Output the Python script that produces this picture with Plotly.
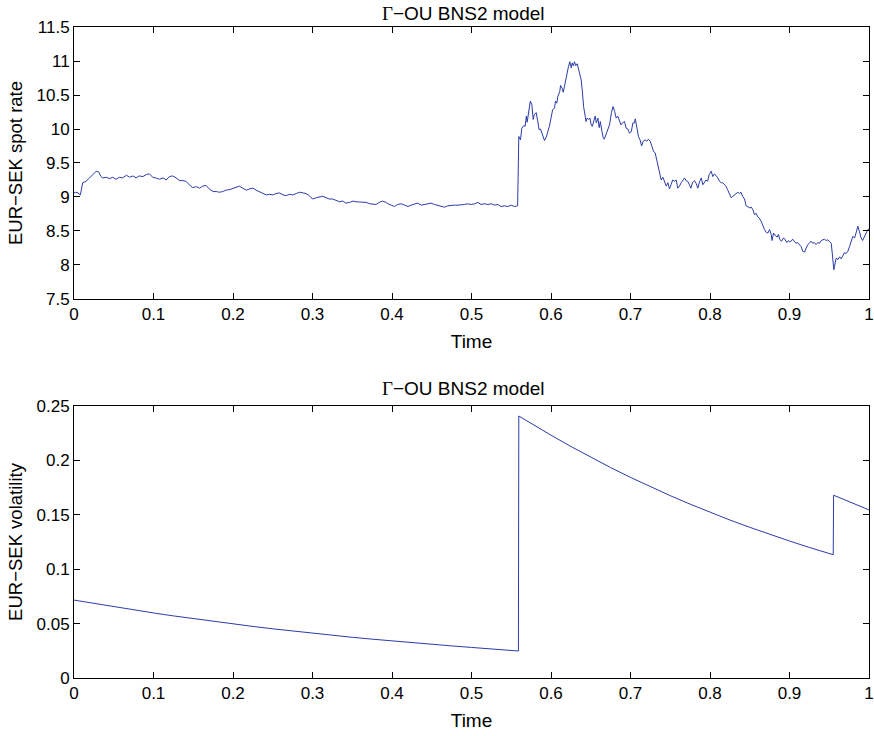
import plotly.graph_objects as go
from plotly.subplots import make_subplots

# ---- data ----
time_spot = [
    0.0, 0.002, 0.005, 0.008, 0.011, 0.015, 0.0195, 0.024, 0.028, 0.031, 0.034, 0.036,
    0.0405, 0.0447, 0.0488, 0.053, 0.057, 0.061, 0.066, 0.070, 0.074, 0.078, 0.082,
    0.0866, 0.091, 0.095, 0.099, 0.103, 0.1075, 0.112, 0.116, 0.120, 0.124, 0.1285,
    0.133, 0.137, 0.141, 0.145, 0.149, 0.154, 0.158, 0.162, 0.166, 0.170, 0.175, 0.179,
    0.183, 0.187, 0.191, 0.196, 0.200, 0.204, 0.208, 0.212, 0.217, 0.221, 0.225, 0.229,
    0.233, 0.2375, 0.242, 0.246, 0.250, 0.254, 0.2585, 0.263, 0.267, 0.271, 0.275,
    0.2795, 0.2836, 0.288, 0.292, 0.296, 0.300, 0.305, 0.309, 0.313, 0.317, 0.321,
    0.3255, 0.330, 0.334, 0.338, 0.342, 0.3465, 0.351, 0.355, 0.359, 0.363, 0.3675,
    0.372, 0.376, 0.380, 0.384, 0.388, 0.3927, 0.395, 0.399, 0.403, 0.407, 0.4116,
    0.416, 0.420, 0.424, 0.428, 0.432, 0.437, 0.441, 0.445, 0.449, 0.4535, 0.4576,
    0.462, 0.466, 0.470, 0.4745, 0.4786, 0.483, 0.487, 0.491, 0.495, 0.4996, 0.504,
    0.508, 0.512, 0.516, 0.5205, 0.525, 0.529, 0.533, 0.537, 0.5415, 0.5457, 0.550,
    0.554, 0.558, 0.5595, 0.5616, 0.5633, 0.5658, 0.5675, 0.569, 0.570, 0.5717, 0.5733,
    0.574, 0.5759, 0.5776, 0.579, 0.5814, 0.5834, 0.585, 0.5868, 0.5885, 0.590, 0.5918,
    0.594, 0.596, 0.598, 0.600, 0.602, 0.6044, 0.6057, 0.6073, 0.6086, 0.611, 0.612,
    0.614, 0.6154, 0.617, 0.619, 0.6204, 0.622, 0.6237, 0.6254, 0.6267, 0.628, 0.6296,
    0.631, 0.633, 0.6346, 0.636, 0.638, 0.6396, 0.641, 0.643, 0.644, 0.6455, 0.647,
    0.649, 0.6506, 0.652, 0.654, 0.6556, 0.657, 0.659, 0.6606, 0.662, 0.664, 0.6657,
    0.667, 0.6695, 0.6715, 0.6736, 0.676, 0.678, 0.680, 0.682, 0.684, 0.686, 0.688,
    0.690, 0.6925, 0.6946, 0.6966, 0.6987, 0.701, 0.703, 0.705, 0.706, 0.708, 0.710,
    0.712, 0.714, 0.716, 0.7185, 0.7205, 0.7226, 0.7248, 0.7268, 0.729, 0.731, 0.733,
    0.735, 0.7365, 0.7386, 0.7407, 0.743, 0.745, 0.747, 0.749, 0.751, 0.753, 0.7553,
    0.7575, 0.7595, 0.7616, 0.7638, 0.766, 0.768, 0.770, 0.772, 0.774, 0.776, 0.778,
    0.7805, 0.7826, 0.7847, 0.787, 0.789, 0.791, 0.793, 0.795, 0.797, 0.799, 0.8015,
    0.8035, 0.8057, 0.808, 0.810, 0.812, 0.814, 0.816, 0.818, 0.820, 0.822, 0.8245,
    0.8267, 0.8287, 0.831, 0.833, 0.835, 0.837, 0.839, 0.841, 0.8434, 0.8455, 0.8476,
    0.850, 0.852, 0.854, 0.856, 0.858, 0.860, 0.862, 0.8644, 0.8665, 0.8686, 0.8707,
    0.8727, 0.875, 0.877, 0.878, 0.880, 0.8824, 0.8845, 0.886, 0.888, 0.890, 0.8925,
    0.8946, 0.8966, 0.8987, 0.900, 0.902, 0.904, 0.906, 0.908, 0.910, 0.9126, 0.9147,
    0.9167, 0.919, 0.921, 0.923, 0.925, 0.927, 0.9293, 0.931, 0.9336, 0.9356, 0.9377,
    0.940, 0.942, 0.944, 0.946, 0.948, 0.950, 0.9525, 0.9537, 0.955, 0.9558, 0.9566,
    0.9587, 0.961, 0.963, 0.965, 0.967, 0.969, 0.9713, 0.9733, 0.9755, 0.9776, 0.9796,
    0.982, 0.984, 0.986, 0.988, 0.990, 0.992, 0.9943, 0.9964, 0.9985, 1.0,
]
spot_rate = [
    9.06, 9.07, 9.06, 9.03, 9.21, 9.23, 9.28, 9.33, 9.38, 9.37, 9.30, 9.28,
    9.29, 9.27, 9.29, 9.26, 9.29, 9.28, 9.32, 9.29, 9.31, 9.28, 9.31,
    9.30, 9.33, 9.34, 9.29, 9.28, 9.26, 9.28, 9.25, 9.30, 9.31, 9.28,
    9.24, 9.24, 9.23, 9.18, 9.14, 9.15, 9.13, 9.16, 9.17, 9.12, 9.08, 9.08,
    9.07, 9.08, 9.10, 9.11, 9.13, 9.14, 9.16, 9.13, 9.10, 9.12, 9.13, 9.10,
    9.08, 9.05, 9.03, 9.04, 9.03, 9.05, 9.06, 9.03, 9.02, 9.04, 9.03,
    9.05, 9.07, 9.06, 9.05, 9.02, 8.97, 8.99, 9.00, 9.01, 8.99, 8.97,
    8.97, 8.95, 8.93, 8.94, 8.91, 8.92, 8.94, 8.93, 8.93, 8.93, 8.92,
    8.90, 8.90, 8.89, 8.92, 8.94, 8.92, 8.90, 8.88, 8.86, 8.89, 8.90,
    8.88, 8.86, 8.88, 8.90, 8.91, 8.88, 8.89, 8.90, 8.91, 8.89, 8.88,
    8.86, 8.85, 8.87, 8.88, 8.88, 8.88, 8.88, 8.89, 8.90, 8.89, 8.90,
    8.92, 8.89, 8.90, 8.89, 8.90, 8.88, 8.89, 8.86, 8.87, 8.86, 8.88,
    8.86, 8.87, 9.89, 9.84, 10.01, 10.05, 10.04, 10.19, 10.10, 10.24, 10.33,
    10.41, 10.36, 10.14, 10.21, 10.24, 10.11, 9.99, 10.00, 9.94, 9.89, 9.83,
    9.88, 9.96, 10.04, 10.16, 10.28, 10.31, 10.41, 10.38, 10.48, 10.55, 10.64,
    10.60, 10.54, 10.63, 10.75, 10.87, 10.92, 10.99, 10.90, 10.97, 10.93, 10.99,
    10.93, 10.96, 10.87, 10.82, 10.72, 10.53, 10.33, 10.19, 10.11, 10.16, 10.14,
    10.16, 10.06, 10.04, 10.14, 10.19, 10.09, 10.16, 10.02, 10.11, 9.97, 9.87,
    9.85, 9.92, 9.99, 10.06, 10.24, 10.33, 10.26, 10.16, 10.19, 10.11, 10.06,
    10.09, 10.11, 10.01, 10.00, 9.94, 9.96, 10.09, 10.09, 10.15, 10.04, 9.89,
    9.84, 9.75, 9.82, 9.84, 9.82, 9.85, 9.82, 9.74, 9.67, 9.65, 9.55,
    9.43, 9.33, 9.25, 9.29, 9.23, 9.16, 9.21, 9.12, 9.18, 9.25, 9.23,
    9.25, 9.13, 9.16, 9.21, 9.24, 9.28, 9.24, 9.23, 9.18, 9.13, 9.21,
    9.24, 9.20, 9.13, 9.23, 9.28, 9.18, 9.21, 9.25, 9.23, 9.33, 9.38,
    9.30, 9.34, 9.31, 9.28, 9.23, 9.21, 9.21, 9.18, 9.16, 9.11, 9.03,
    8.99, 9.01, 9.03, 9.06, 9.07, 9.05, 9.07, 9.01, 8.97, 8.87, 8.86,
    8.84, 8.85, 8.81, 8.74, 8.76, 8.71, 8.69, 8.64, 8.57, 8.52, 8.48,
    8.47, 8.52, 8.45, 8.36, 8.47, 8.43, 8.41, 8.45, 8.37, 8.35, 8.40,
    8.37, 8.33, 8.36, 8.34, 8.35, 8.38, 8.35, 8.32, 8.33, 8.30, 8.27,
    8.20, 8.19, 8.25, 8.30, 8.32, 8.35, 8.32, 8.33, 8.30, 8.33, 8.32,
    8.36, 8.37, 8.38, 8.36, 8.37, 8.35, 8.32, 8.18, 8.00, 7.93, 7.98,
    8.10, 8.08, 8.12, 8.09, 8.13, 8.18, 8.17, 8.20, 8.27, 8.35, 8.42,
    8.40, 8.47, 8.57, 8.49, 8.40, 8.36, 8.42, 8.49, 8.52, 8.53,
]

time_vol = [0.0, 0.025, 0.05, 0.075, 0.1, 0.125, 0.15, 0.175, 0.2, 0.225, 0.25, 0.275,
            0.3, 0.325, 0.35, 0.375, 0.4, 0.425, 0.45, 0.475, 0.5, 0.525, 0.559,
            0.5595, 0.575, 0.6, 0.625, 0.65, 0.675, 0.7, 0.725, 0.75, 0.775, 0.8,
            0.825, 0.85, 0.875, 0.9, 0.925, 0.955,
            0.9555, 0.975, 1.0]
volatility = [0.0716, 0.0685, 0.0655, 0.0626, 0.0598, 0.0571, 0.0545, 0.0520, 0.0497,
              0.0474, 0.0452, 0.0431, 0.0411, 0.0392, 0.0374, 0.0357, 0.0340, 0.0324,
              0.0309, 0.0295, 0.0281, 0.0268, 0.0248,
              0.2408, 0.2338, 0.2232, 0.2128, 0.2029, 0.1934, 0.1844, 0.1758, 0.1676,
              0.1598, 0.1523, 0.1452, 0.1385, 0.1320, 0.1259, 0.1200, 0.1133,
              0.1680, 0.1620, 0.1545]

x_ticks = [0, 0.1, 0.2, 0.3, 0.4, 0.5, 0.6, 0.7, 0.8, 0.9, 1]
x_tick_labels = ["0", "0.1", "0.2", "0.3", "0.4", "0.5", "0.6", "0.7", "0.8", "0.9", "1"]
spot_ticks = [7.5, 8, 8.5, 9, 9.5, 10, 10.5, 11, 11.5]
spot_tick_labels = ["7.5", "8", "8.5", "9", "9.5", "10", "10.5", "11", "11.5"]
vol_ticks = [0, 0.05, 0.1, 0.15, 0.2, 0.25]
vol_tick_labels = ["0", "0.05", "0.1", "0.15", "0.2", "0.25"]

title_text = '<span style="font-family:Liberation Serif">Γ</span>−OU BNS2 model'

LINE = "#2b3ca8"
FONT = "Liberation Sans, Arial, sans-serif"

fig = make_subplots(rows=2, cols=1, vertical_spacing=0.1644)
fig.add_trace(go.Scatter(x=time_spot, y=spot_rate, mode="lines",
                         line=dict(color=LINE, width=1), showlegend=False), row=1, col=1)
fig.add_trace(go.Scatter(x=time_vol, y=volatility, mode="lines",
                         line=dict(color=LINE, width=1), showlegend=False), row=2, col=1)

axis_common = dict(showline=True, linecolor="black", linewidth=1, mirror="ticks",
                   ticks="inside", ticklen=6, tickcolor="black", showgrid=False,
                   zeroline=False, ticklabeloverflow="allow", automargin=False,
                   tickfont=dict(family=FONT, size=17, color="black"))

fig.update_xaxes(range=[0, 1], tickvals=x_ticks, ticktext=x_tick_labels,
                 title=dict(text="Time", font=dict(family=FONT, size=19, color="black"), standoff=11),
                 **axis_common)
fig.update_yaxes(range=[7.5, 11.5], tickvals=spot_ticks, ticktext=spot_tick_labels,
                 title=dict(text="EUR−SEK spot rate", font=dict(family=FONT, size=18.5, color="black"), standoff=9),
                 domain=[0.5822, 1.0], row=1, col=1, **axis_common)
fig.update_yaxes(range=[0, 0.25], tickvals=vol_ticks, ticktext=vol_tick_labels,
                 title=dict(text="EUR−SEK volatility", font=dict(family=FONT, size=18.5, color="black"), standoff=9),
                 domain=[0.0, 0.4178], row=2, col=1, **axis_common)

fig.add_annotation(text=title_text, xref="paper", yref="paper", x=0.49, y=1.0,
                   xanchor="center", yanchor="bottom", yshift=1, showarrow=False,
                   font=dict(family=FONT, size=19, color="black"))
fig.add_annotation(text=title_text, xref="paper", yref="paper", x=0.49, y=0.4178,
                   xanchor="center", yanchor="bottom", yshift=5, showarrow=False,
                   font=dict(family=FONT, size=19, color="black"))

fig.update_layout(width=874, height=736, paper_bgcolor="white", plot_bgcolor="white",
                  margin=dict(l=74, r=5, t=27, b=58, autoexpand=False),
                  font=dict(family=FONT, color="black"))

# remove the browser's default 8px page margin so the figure fills the window exactly
fig.write_html("out.html", config={"displayModeBar": False},
               post_script="document.body.style.margin='0';")
